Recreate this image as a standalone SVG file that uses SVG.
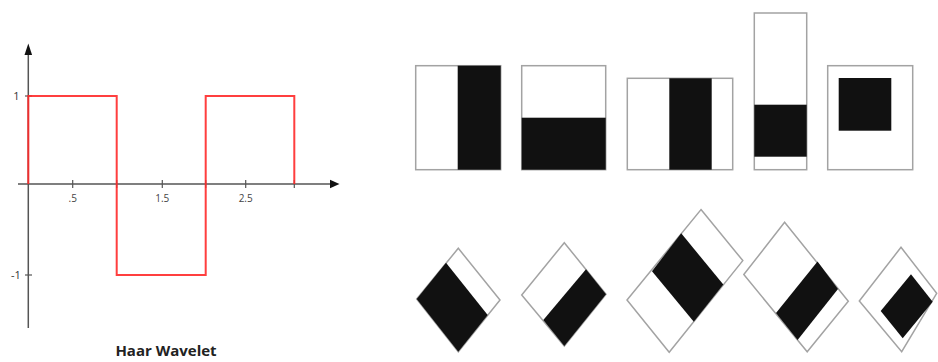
<svg xmlns="http://www.w3.org/2000/svg" width="938" height="362" viewBox="0 0 938 362">
<style>
.ax{stroke:#555;stroke-width:1.5;fill:none}
.tk{stroke:#555;stroke-width:1.2}
.wave{stroke:#ff2a2a;stroke-width:2;fill:none;stroke-opacity:0.9}
.lbl{font-family:"Open Sans","Liberation Sans",sans-serif;font-size:10px;fill:#444}
.ylbl{font-family:"Open Sans","Liberation Sans",sans-serif;font-size:11px;fill:#333}
.title{font-family:"Open Sans","Liberation Sans",sans-serif;font-size:15px;font-weight:bold;fill:#222}
.frame{fill:#fff;stroke:#a3a3a3;stroke-width:1.5}
.blk{fill:#111;stroke:none}
</style>
<rect width="938" height="362" fill="#fff"/>
<g id="haar-chart">
  <line class="ax" x1="28.3" y1="54" x2="28.3" y2="328"/>
  <polygon points="28.3,43.5 24.5,55 32.1,55" fill="#111"/>
  <line class="ax" x1="18" y1="184" x2="331" y2="184"/>
  <polygon points="339.5,184 330,179.8 330,188.2" fill="#111"/>
  <line class="tk" x1="25" y1="96" x2="32" y2="96"/>
  <line class="tk" x1="25" y1="275" x2="32" y2="275"/>
  <line class="tk" x1="72.7" y1="180" x2="72.7" y2="188"/>
  <line class="tk" x1="116.7" y1="180" x2="116.7" y2="188"/>
  <line class="tk" x1="162.3" y1="180" x2="162.3" y2="188"/>
  <line class="tk" x1="205.7" y1="180" x2="205.7" y2="188"/>
  <line class="tk" x1="245.7" y1="180" x2="245.7" y2="188"/>
  <line class="tk" x1="294.3" y1="180" x2="294.3" y2="188"/>
  <path class="wave" d="M28.3,184 V96 H116.7 V275 H205.7 V96 H294.3 V184"/>
  <text class="ylbl" x="16.5" y="100" text-anchor="middle">1</text>
  <text class="ylbl" x="16" y="279" text-anchor="middle">-1</text>
  <text class="lbl" x="72.7" y="201.5" text-anchor="middle">.5</text>
  <text class="lbl" x="162.3" y="201.5" text-anchor="middle">1.5</text>
  <text class="lbl" x="245.7" y="201.5" text-anchor="middle">2.5</text>
  <text class="title" x="166" y="356" text-anchor="middle">Haar Wavelet</text>
</g>
<g id="feature-1">
  <rect class="frame" x="415.7" y="65.7" width="85" height="104"/>
  <rect class="blk" x="457.7" y="65.7" width="43" height="104"/>
</g>
<g id="feature-2">
  <rect class="frame" x="521.7" y="65.7" width="84" height="104"/>
  <rect class="blk" x="521.7" y="117.7" width="84" height="52"/>
</g>
<g id="feature-3">
  <rect class="frame" x="627.3" y="78.3" width="105.4" height="91.4"/>
  <rect class="blk" x="669.3" y="78.3" width="42.4" height="91.4"/>
</g>
<g id="feature-4">
  <rect class="frame" x="754.3" y="13" width="52.4" height="156.7"/>
  <rect class="blk" x="754.3" y="104.7" width="52.4" height="52"/>
</g>
<g id="feature-5">
  <rect class="frame" x="827.7" y="65.7" width="85" height="104"/>
  <rect class="blk" x="838.7" y="78" width="52.6" height="52.7"/>
</g>
<g id="feature-6">
  <polygon class="frame" points="458.3,248.3 500,300 458.3,351.7 416.7,299"/>
  <polygon class="blk" points="446,262.7 487.7,315 458.3,351.7 416.7,299"/>
</g>
<g id="feature-7">
  <polygon class="frame" points="564.3,242.7 606,294.3 564.3,346 521.7,295"/>
  <polygon class="blk" points="586,269.3 606,294.3 564.3,346 543.3,320"/>
</g>
<g id="feature-8">
  <polygon class="frame" points="701,209.6 742.8,260.6 669.2,352.3 627,300"/>
  <polygon class="blk" points="681.2,233.3 723.3,284.6 693.8,321.7 652,271.3"/>
</g>
<g id="feature-9">
  <polygon class="frame" points="784.6,222.3 848.3,301.3 807.2,351.7 743.8,274.6"/>
  <polygon class="blk" points="817.5,261.6 838,289 797.6,340 776,313"/>
</g>
<g id="feature-10">
  <polygon class="frame" points="901,247.3 936.7,293.3 901.7,351.7 859.3,301"/>
  <polygon class="blk" points="911,274.3 932.7,301.7 902.7,338.3 880.7,311"/>
</g>
<g id="connectors"></g>
</svg>
